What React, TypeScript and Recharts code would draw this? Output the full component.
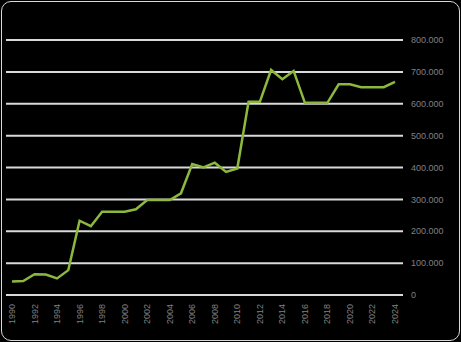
import { CartesianGrid, Line, LineChart, XAxis, YAxis } from "recharts";

const years = [
  "1990", "1991", "1992", "1993", "1994", "1995", "1996", "1997", "1998", "1999",
  "2000", "2001", "2002", "2003", "2004", "2005", "2006", "2007", "2008", "2009",
  "2010", "2011", "2012", "2013", "2014", "2015", "2016", "2017", "2018", "2019",
  "2020", "2021", "2022", "2023", "2024",
];

const values = [
  42000, 44000, 65000, 64000, 52000, 78000, 233000, 216000, 261000, 261000,
  261000, 269000, 298000, 298000, 298000, 319000, 411000, 400000, 415000, 386000,
  397000, 606000, 606000, 706000, 677000, 703000, 603000, 603000, 603000, 661000,
  661000, 652000, 652000, 652000, 669000,
];

const yTicks = [0, 100000, 200000, 300000, 400000, 500000, 600000, 700000, 800000];

const data = years.map((year, i) => ({ year, value: values[i] }));

const fmt = (v: number) => String(v).replace(/\B(?=(\d{3})+(?!\d))/g, ".");

const YearTick = (props: any) => {
  const { x, y, payload } = props;
  return (
    <text
      x={0}
      y={0}
      transform={`translate(${x + 3},${y + 1}) rotate(-90)`}
      textAnchor="end"
      fontSize={9}
      fill="#808080"
      fontFamily="'Liberation Sans', Arial, sans-serif"
    >
      {payload.value}
    </text>
  );
};

const App = () => {
  return (
    <div
      style={{
        position: "absolute",
        left: 0,
        top: 0,
        width: 461,
        height: 342,
        background: "#000000",
      }}
    >
      <div
        style={{
          position: "absolute",
          left: 1,
          top: 1,
          width: 457,
          height: 338,
          border: "1px solid #d9d9d9",
          borderRadius: 10,
        }}
      />
      <LineChart
        width={461}
        height={342}
        data={data}
        margin={{ top: 40, right: 8, bottom: 0, left: 6 }}
        style={{ position: "absolute", left: 0, top: 0 }}
      >
        <CartesianGrid vertical={false} stroke="#d9d9d9" strokeWidth={2} />
        <XAxis
          dataKey="year"
          interval={1}
          axisLine={false}
          tickLine={false}
          height={47}
          padding={{ left: 6, right: 8 }}
          tick={<YearTick />}
        />
        <YAxis
          orientation="right"
          domain={[0, 800000]}
          ticks={yTicks}
          tickFormatter={fmt}
          axisLine={false}
          tickLine={false}
          width={50}
          fontSize={9}
          tick={{ fill: "#808080", fontFamily: "'Liberation Sans', Arial, sans-serif" }}
          textAnchor="start"
        />
        <Line
          type="linear"
          dataKey="value"
          stroke="#8cb83e"
          strokeWidth={2.5}
          dot={false}
          isAnimationActive={false}
        />
      </LineChart>
    </div>
  );
};

export default App;
